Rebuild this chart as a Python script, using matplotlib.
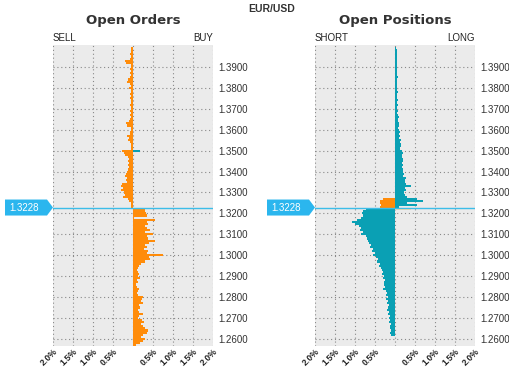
import numpy as np
import matplotlib
matplotlib.use("Agg")
from matplotlib import pyplot as plt
from matplotlib.patches import Polygon

plt.rcParams["font.family"] = ["Liberation Sans", "DejaVu Sans"]

price = 1.3228
upper_levels = np.round(np.arange(1.399, 1.3225, -0.001), 3)   # 1.399 .. 1.323
lower_levels = np.round(np.arange(1.322, 1.2565, -0.001), 3)   # 1.322 .. 1.257

# open orders, % (above price = sell, below price = buy)
sell_orders = [
    0.05, 0.06, 0.05, 0.07, 0.06, 0.08, 0.20, 0.18, 0.06, 0.05,
    0.07, 0.06, 0.08, 0.06, 0.08, 0.13, 0.16, 0.07, 0.06, 0.10,
    0.06, 0.05, 0.07, 0.06, 0.08, 0.05, 0.06, 0.07, 0.05, 0.06,
    0.07, 0.06, 0.08, 0.06, 0.07, 0.09, 0.17, 0.14, 0.06, 0.05,
    0.07, 0.08, 0.15, 0.10, 0.12, 0.08, 0.06, 0.05, 0.06, 0.28,
    0.22, 0.20, 0.12, 0.10, 0.13, 0.11, 0.12, 0.09, 0.13, 0.15,
    0.17, 0.20, 0.15, 0.18, 0.14, 0.28, 0.30, 0.25, 0.30, 0.22,
    0.20, 0.25, 0.12, 0.09, 0.06, 0.05, 0.04,
]
buy_orders = [
    0.30, 0.30, 0.33, 0.35, 0.02, 0.55, 0.35, 0.38, 0.30, 0.35,
    0.42, 0.30, 0.50, 0.35, 0.38, 0.55, 0.40, 0.30, 0.35, 0.28,
    0.38, 0.35, 0.75, 0.40, 0.42, 0.30, 0.20, 0.15, 0.12, 0.10,
    0.12, 0.15, 0.12, 0.18, 0.10, 0.12, 0.08, 0.10, 0.15, 0.12,
    0.10, 0.12, 0.25, 0.22, 0.20, 0.25, 0.15, 0.18, 0.12, 0.15,
    0.25, 0.15, 0.12, 0.22, 0.28, 0.20, 0.25, 0.30, 0.38, 0.35,
    0.25, 0.20, 0.30, 0.25, 0.18, 0.08,
]
extra_order_level = 1.350
extra_order_value = 0.17

# open positions, %
long_positions = [
    0.03, 0.05, 0.04, 0.06, 0.05, 0.04, 0.06, 0.05, 0.04, 0.05,
    0.05, 0.04, 0.06, 0.05, 0.07, 0.05, 0.06, 0.04, 0.05, 0.06,
    0.05, 0.07, 0.06, 0.05, 0.06, 0.08, 0.06, 0.07, 0.05, 0.06,
    0.07, 0.06, 0.08, 0.09, 0.07, 0.08, 0.10, 0.09, 0.08, 0.10,
    0.12, 0.10, 0.13, 0.11, 0.15, 0.12, 0.14, 0.16, 0.13, 0.17,
    0.20, 0.18, 0.17, 0.20, 0.19, 0.17, 0.21, 0.18, 0.20, 0.19,
    0.22, 0.20, 0.27, 0.26, 0.25, 0.28, 0.40, 0.25, 0.27, 0.22,
    0.25, 0.30, 0.55, 0.70, 0.30, 0.55, 0.10,
]
short_positions = [
    0.72, 0.80, 0.82, 0.80, 0.85, 0.95, 1.07, 1.00, 0.90, 0.85,
    0.88, 0.80, 0.85, 0.72, 0.70, 0.68, 0.65, 0.60, 0.62, 0.55,
    0.58, 0.50, 0.55, 0.48, 0.42, 0.45, 0.38, 0.40, 0.35, 0.33,
    0.30, 0.32, 0.28, 0.30, 0.25, 0.28, 0.27, 0.25, 0.30, 0.22,
    0.20, 0.22, 0.18, 0.22, 0.17, 0.20, 0.15, 0.18, 0.20, 0.15,
    0.17, 0.13, 0.15, 0.12, 0.14, 0.10, 0.13, 0.12, 0.10, 0.12,
    0.10,
]
short_above_levels = [1.327, 1.326, 1.325, 1.324, 1.323]
short_above_values = [0.30, 0.38, 0.38, 0.35, 0.37]
long_below_levels = [1.322]
long_below_values = [0.40]

x_ticks = [-2.0, -1.5, -1.0, -0.5, 0.0, 0.5, 1.0, 1.5, 2.0]
y_ticks = np.round(np.arange(1.26, 1.3905, 0.01), 2)

orange = "#ff8c0a"
teal = "#0aa0b4"
pale = "#ffd9aa"
blue = "#3cbde8"
tag_blue = "#2bb6ee"

fig = plt.figure(figsize=(5.10, 3.71), dpi=100)
ax1 = fig.add_axes([53 / 510, 25 / 371, 160 / 510, 301 / 371])
ax2 = fig.add_axes([315 / 510, 25 / 371, 160 / 510, 301 / 371])

h = 0.001
ax1.barh(upper_levels, -np.array(sell_orders), height=h, color=orange, lw=0)
ax1.barh(lower_levels, buy_orders, height=h, color=orange, lw=0)
ax1.barh([extra_order_level], [extra_order_value], height=h, color=teal, lw=0)

ax2.barh(upper_levels, long_positions, height=h, color=teal, lw=0)
ax2.barh(lower_levels[:len(short_positions)], -np.array(short_positions),
         height=h, color=teal, lw=0)
ax2.barh(short_above_levels, -np.array(short_above_values), height=h, color=orange, lw=0)
ax2.barh(long_below_levels, long_below_values, height=h, color=pale, lw=0)

for ax, title, left_lbl, right_lbl in [(ax1, "Open Orders", "SELL", "BUY"),
                                       (ax2, "Open Positions", "SHORT", "LONG")]:
    ax.set_facecolor("#ebebeb")
    ax.set_xlim(-2, 2)
    ax.set_ylim(1.2566, 1.4005)
    ax.set_xticks(x_ticks)
    ax.set_xticklabels([("%.1f%%" % abs(t)) if t != 0 else "" for t in x_ticks],
                       rotation=45, fontsize=6.3, fontweight="bold", ha="right",
                       rotation_mode="anchor", color="#222222")
    ax.set_yticks(y_ticks)
    ax.set_yticklabels(["%.4f" % t for t in y_ticks], fontsize=7, color="#333333")
    ax.yaxis.tick_right()
    ax.tick_params(length=0, pad=4)
    ax.tick_params(axis="x", pad=1)
    ax.grid(True, ls=(0, (1, 2.5)), color="#888888", lw=0.8)
    ax.set_axisbelow(True)
    for s in ax.spines.values():
        s.set_visible(False)
    ax.axhline(price, color=blue, lw=1)
    ax.text(0.5, 1.08, title, transform=ax.transAxes, fontsize=9.5, fontweight="bold",
            ha="center", va="center", family="DejaVu Sans", color="#333333")
    ax.text(0, 1.008, left_lbl, transform=ax.transAxes, fontsize=7, ha="left", va="bottom",
            color="#222222")
    ax.text(1, 1.008, right_lbl, transform=ax.transAxes, fontsize=7, ha="right", va="bottom",
            color="#222222")

    # price tag on the left of each panel
    fig.canvas.draw()
    inv = fig.transFigure.inverted()
    x0, yp = ax.transData.transform((-2, price))
    pts = [(x0 - 48, yp - 8), (x0 - 6, yp - 8), (x0, yp), (x0 - 6, yp + 8), (x0 - 48, yp + 8)]
    pts = inv.transform(pts)
    fig.patches.append(Polygon(pts, closed=True, transform=fig.transFigure,
                               facecolor=tag_blue, edgecolor="none", figure=fig))
    tx, ty = inv.transform((x0 - 44, yp))
    fig.text(tx, ty, "%.4f" % price, color="white", fontsize=7, va="center", ha="left")

fig.text(272 / 510, 1 - 9 / 371, "EUR/USD", fontsize=7.5, fontweight="bold",
         ha="center", va="center", color="#333333")

fig.savefig("out.png", dpi=100)
